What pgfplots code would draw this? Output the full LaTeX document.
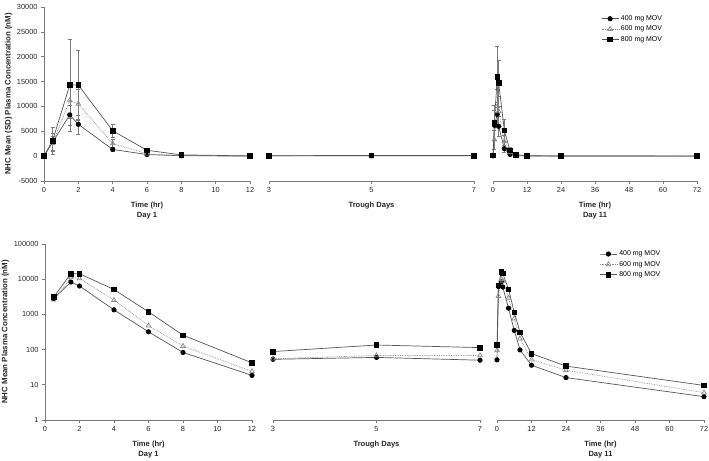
\documentclass[border=0pt]{standalone}
\usepackage{fontspec}
\setmainfont{Liberation Sans}
\usepackage{pgfplots}
\usepackage{pgfplotstable}
\pgfplotsset{compat=1.18}
\definecolor{linegray}{HTML}{555555}
\definecolor{axgray}{HTML}{7A7A7A}
\definecolor{trigray}{HTML}{8A8A8A}

% Day 1 (t, mean, SD)
\pgfplotstableread{
t m sd
0 0 0
0.5 2800 1800
1.5 8300 2000
2 6400 1900
4 1350 400
6 320 150
8 83 40
12 18.5 10
}\dayA
\pgfplotstableread{
t m sd
0 0 0
0.5 2600 1500
1.5 11200 3500
2 10500 3000
4 2550 900
6 480 250
8 126 60
12 24 12
}\dayB
\pgfplotstableread{
t m sd
0 0 0
0.5 3100 2700
1.5 14300 9300
2 14300 7000
4 5100 1300
6 1180 500
8 257 120
12 42 20
}\dayC
% Day 1 log panel (from 0.5 h)
\pgfplotstableread{
t m
0.5 2800
1.5 8300
2 6400
4 1350
6 320
8 83
12 18.5
}\ldayA
\pgfplotstableread{
t m
0.5 2600
1.5 11200
2 10500
4 2550
6 480
8 126
12 24
}\ldayB
\pgfplotstableread{
t m
0.5 3100
1.5 14300
2 14300
4 5100
6 1180
8 257
12 42
}\ldayC
% Trough days
\pgfplotstableread{
t m
3 53
5 60
7 50
}\trA
\pgfplotstableread{
t m
3 55
5 68
7 68
}\trB
\pgfplotstableread{
t m
3 88
5 135
7 114
}\trC
% Day 11 (t, mean, SD)
\pgfplotstableread{
t m sd
0 51 20
0.5 6200 3000
1.5 8400 2500
2 6000 2000
4 1500 700
6 350 200
8 98 60
12 36 20
24 16 10
72 4.6 3
}\elA
\pgfplotstableread{
t m sd
0 95 40
0.5 3300 2000
1.5 10000 3500
2 9000 3000
4 2950 1200
6 760 400
8 205 100
12 52 30
24 26 15
72 6 4
}\elB
\pgfplotstableread{
t m sd
0 135 60
0.5 6700 3500
1.5 16000 6100
2 14700 4600
4 5200 2200
6 1150 600
8 310 150
12 77 40
24 34 20
72 9.6 5
}\elC

\pgfplotsset{
  base/.style={scale only axis, enlargelimits=false, clip=false,
    scaled x ticks=false, scaled y ticks=false,
    axis line style={axgray, line width=0.6bp, -},
    tick style={axgray, line width=0.6bp},
    tick align=outside, major tick length=3bp,
    ticklabel style={font=\fontsize{7.4}{8}\selectfont, text=black!85},
    /pgf/number format/assume math mode=true,
    label style={font=\bfseries\fontsize{7.6}{10}\selectfont, text=black!85},
    xlabel style={align=center, yshift=-2.5bp},
    ylabel style={font=\bfseries\fontsize{7.9}{9}\selectfont, yshift=-2bp},
  },
  nol/.style={axis y line=none, ytick=\empty, axis x line*=bottom},
  s400/.style={linegray, line width=0.7bp, mark=*, mark size=2.2bp, mark options={solid, fill=black, draw=black}},
  s600/.style={trigray, line width=0.7bp, densely dotted, mark=triangle, mark size=2.7bp, mark options={solid, draw=trigray, fill=white}},
  s800/.style={linegray, line width=0.7bp, mark=square*, mark size=2.3bp, mark options={solid, fill=black, draw=black}},
  eb/.style={error bars/.cd, y dir=both, y explicit, error bar style={axgray, line width=0.5bp, solid}, error mark options={rotate=90, axgray, mark size=2bp, line width=0.5bp, solid}},
  leg/.style={legend style={at={(#1)}, anchor=north west, draw=none, fill=none, font=\fontsize{7}{7.5}\selectfont, legend cell align=left, row sep=0bp}},
}

\begin{document}
\begin{tikzpicture}
\useasboundingbox (0,0) rectangle (709bp,461bp);

% ===== Top row =====
\begin{axis}[base, ymin=-5000, ymax=30000, height=174bp, at={(44bp,280bp)}, anchor=south west, width=206bp,
  xmin=0, xmax=12, axis x line*=bottom, axis y line*=left,
  xtick={0,2,4,6,8,10,12},
  ytick={-5000,0,5000,10000,15000,20000,25000,30000},
  yticklabels={-5000,0,5000,10000,15000,20000,25000,30000},
  xlabel={Time (hr)\\Day 1},
  ylabel={NHC Mean (SD) Plasma Concentration (nM)}]
\addplot[s400, eb] table[x=t, y=m, y error=sd] {\dayA};
\addplot[s600, eb] table[x=t, y=m, y error=sd] {\dayB};
\addplot[s800, eb] table[x=t, y=m, y error=sd] {\dayC};
\end{axis}

\begin{axis}[base, ymin=-5000, ymax=30000, height=174bp, nol, at={(269bp,280bp)}, anchor=south west, width=205bp,
  xmin=3, xmax=7, xtick={3,5,7}, xlabel={Trough Days}]
\addplot[s400] table[x=t, y=m] {\trA};
\addplot[s600] table[x=t, y=m] {\trB};
\addplot[s800] table[x=t, y=m] {\trC};
\end{axis}

\begin{axis}[base, ymin=-5000, ymax=30000, height=174bp, nol, at={(493bp,280bp)}, anchor=south west, width=204bp,
  xmin=0, xmax=72, xtick={0,12,24,36,48,60,72}, xlabel={Time (hr)\\Day 11},
  leg={0.515,0.975}]
\addplot[s400, eb] table[x=t, y=m, y error=sd] {\elA};
\addlegendentry{400 mg MOV}
\addplot[s600, eb] table[x=t, y=m, y error=sd] {\elB};
\addlegendentry{600 mg MOV}
\addplot[s800, eb] table[x=t, y=m, y error=sd] {\elC};
\addlegendentry{800 mg MOV}
\end{axis}

% ===== Bottom row =====
\begin{axis}[base, ymode=log, ymin=1, ymax=100000, height=176bp, yminorticks=false,
  at={(45bp,41bp)}, anchor=south west, width=207bp,
  xmin=0, xmax=12, axis x line*=bottom, axis y line*=left,
  xtick={0,2,4,6,8,10,12},
  ytick={1,10,100,1000,10000,100000},
  yticklabels={1,10,100,1000,10000,100000},
  xlabel={Time (hr)\\Day 1},
  ylabel={NHC Mean Plasma Concentration (nM)}]
\addplot[s400] table[x=t, y=m] {\ldayA};
\addplot[s600] table[x=t, y=m] {\ldayB};
\addplot[s800] table[x=t, y=m] {\ldayC};
\end{axis}

\begin{axis}[base, ymode=log, ymin=1, ymax=100000, height=176bp, nol,
  at={(273bp,41bp)}, anchor=south west, width=207bp,
  xmin=3, xmax=7, xtick={3,5,7}, xlabel={Trough Days}]
\addplot[s400] table[x=t, y=m] {\trA};
\addplot[s600] table[x=t, y=m] {\trB};
\addplot[s800] table[x=t, y=m] {\trC};
\end{axis}

\begin{axis}[base, ymode=log, ymin=1, ymax=100000, height=176bp, nol,
  at={(497bp,41bp)}, anchor=south west, width=207bp,
  xmin=0, xmax=72, xtick={0,12,24,36,48,60,72}, xlabel={Time (hr)\\Day 11},
  leg={0.48,0.985}]
\addplot[s400] table[x=t, y=m] {\elA};
\addlegendentry{400 mg MOV}
\addplot[s600] table[x=t, y=m] {\elB};
\addlegendentry{600 mg MOV}
\addplot[s800] table[x=t, y=m] {\elC};
\addlegendentry{800 mg MOV}
\end{axis}
\end{tikzpicture}
\end{document}
